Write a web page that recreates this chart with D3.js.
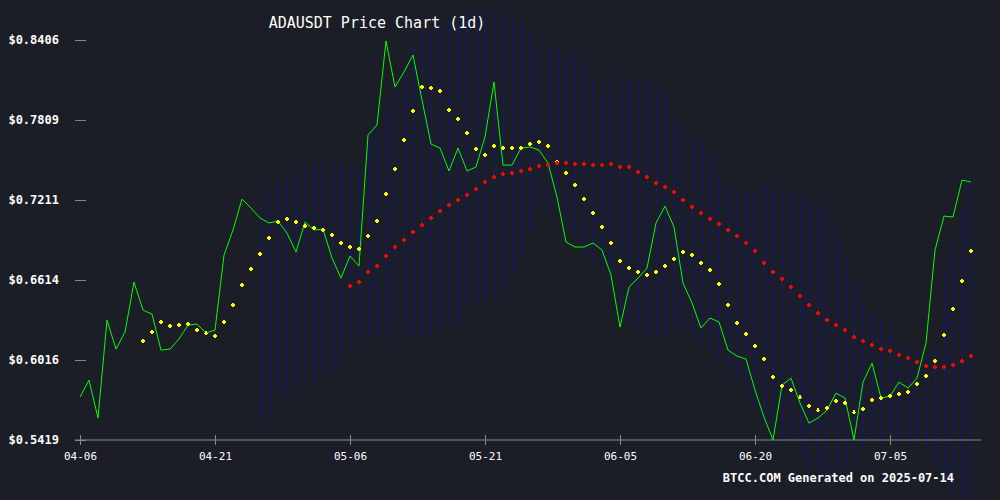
<!DOCTYPE html>
<html lang="en">
<head>
<meta charset="UTF-8">
<title>ADAUSDT Price Chart</title>
<script src="https://cdn.jsdelivr.net/npm/d3@7"></script>
<style>
  body { margin: 0; background: #1b1d27; }
  text { font-family: "DejaVu Sans Mono", monospace; }
</style>
</head>
<body>
<script>
    // daily closes from 04-06 to 07-14
    var startDate = "2025-04-06";
    var closes = [0.5739,0.5866,0.5583,0.6315,0.6098,0.6225,0.6598,0.6389,0.6359,0.6090,
        0.6098,0.6173,0.6277,0.6285,0.6217,0.6240,0.6800,0.6987,0.7218,0.7151,
        0.7077,0.7039,0.7054,0.6964,0.6823,0.7047,0.6987,0.6994,0.6778,0.6628,
        0.6793,0.6718,0.7697,0.7771,0.8399,0.8055,0.8167,0.8294,0.7958,0.7629,
        0.7599,0.7428,0.7599,0.7428,0.7458,0.7682,0.8092,0.7472,0.7472,0.7599,
        0.7607,0.7584,0.7487,0.7233,0.6897,0.6860,0.6860,0.6890,0.6837,0.6651,
        0.6262,0.6561,0.6628,0.6703,0.7039,0.7166,0.7009,0.6591,0.6442,0.6255,
        0.6330,0.6300,0.6090,0.6046,0.6023,0.5792,0.5590,0.5419,0.5829,0.5881,
        0.5695,0.5545,0.5583,0.5642,0.5769,0.5732,0.5419,0.5851,0.5993,0.5732,
        0.5747,0.5851,0.5807,0.5881,0.6143,0.6837,0.7091,0.7084,0.7360,0.7345];

    // short moving average, starts at day 7
    var maShortStart = 7;
    var maShort = [0.6158,0.6225,0.6300,0.6270,0.6277,0.6285,0.6240,0.6217,0.6195,0.6300,
        0.6427,0.6576,0.6696,0.6808,0.6927,0.7047,0.7069,0.7047,0.7017,0.7002,
        0.6987,0.6950,0.6890,0.6860,0.6845,0.6942,0.7054,0.7256,0.7443,0.7659,
        0.7876,0.8055,0.8048,0.8025,0.7883,0.7816,0.7711,0.7592,0.7547,0.7614,
        0.7599,0.7599,0.7599,0.7629,0.7644,0.7614,0.7495,0.7413,0.7323,0.7218,
        0.7114,0.7009,0.6890,0.6755,0.6703,0.6673,0.6651,0.6673,0.6718,0.6770,
        0.6823,0.6800,0.6740,0.6688,0.6583,0.6427,0.6292,0.6210,0.6120,0.6023,
        0.5889,0.5822,0.5792,0.5739,0.5672,0.5642,0.5657,0.5710,0.5695,0.5627,
        0.5650,0.5717,0.5732,0.5747,0.5762,0.5777,0.5837,0.5896,0.6008,0.6203,
        0.6397,0.6606,0.6830];

    // long moving average, starts at day 30
    var maLongStart = 30;
    var maLong = [0.6569,0.6598,0.6673,0.6718,0.6793,0.6860,0.6912,0.6972,0.7024,0.7077,
        0.7129,0.7174,0.7211,0.7248,0.7293,0.7345,0.7383,0.7405,0.7413,0.7428,
        0.7443,0.7465,0.7472,0.7487,0.7487,0.7480,0.7480,0.7472,0.7472,0.7480,
        0.7458,0.7458,0.7420,0.7383,0.7338,0.7308,0.7271,0.7211,0.7159,0.7114,
        0.7069,0.7032,0.6987,0.6942,0.6890,0.6830,0.6740,0.6673,0.6621,0.6561,
        0.6494,0.6427,0.6367,0.6315,0.6277,0.6240,0.6188,0.6158,0.6128,0.6098,
        0.6083,0.6053,0.6031,0.6001,0.5971,0.5964,0.5964,0.5979,0.6008,0.6046];

    // band (upper / lower), starts at day 20
    var bandStart = 20;
    var bandUpper = [0.7248,0.7308,0.7331,0.7375,0.7413,0.7450,0.7487,0.7487,0.7502,0.7487,
        0.7458,0.7435,0.7682,0.7883,0.7958,0.8070,0.8160,0.8384,0.8466,0.8496,
        0.8503,0.8556,0.8578,0.8608,0.8608,0.8615,0.8630,0.8615,0.8593,0.8518,
        0.8466,0.8354,0.8354,0.8354,0.8309,0.8294,0.8242,0.8122,0.8070,0.8070,
        0.8130,0.8122,0.8107,0.8085,0.8055,0.7995,0.7809,0.7756,0.7719,0.7644,
        0.7547,0.7420,0.7323,0.7263,0.7263,0.7271,0.7308,0.7316,0.7271,0.7248,
        0.7248,0.7233,0.7196,0.7136,0.6987,0.6778,0.6591,0.6449,0.6374,0.6315,
        0.6225,0.6113,0.6090,0.6076,0.6038,0.6113,0.6673,0.6890,0.7151,0.7345];
    var bandLower = [0.5553,0.5605,0.5739,0.5762,0.5814,0.5851,0.5851,0.5889,0.5919,0.6001,
        0.6098,0.6173,0.6188,0.6173,0.6158,0.6225,0.6210,0.6173,0.6173,0.6195,
        0.6225,0.6255,0.6292,0.6404,0.6449,0.6449,0.6501,0.6539,0.6651,0.6815,
        0.6964,0.7159,0.7136,0.7136,0.7009,0.6935,0.6785,0.6778,0.6711,0.6613,
        0.6262,0.6300,0.6255,0.6203,0.6188,0.6218,0.6262,0.6225,0.6165,0.6105,
        0.6090,0.6016,0.5941,0.5866,0.5754,0.5642,0.5530,0.5381,0.5403,0.5419,
        0.5284,0.5194,0.5119,0.5134,0.5142,0.5217,0.5209,0.5359,0.5419,0.5396,
        0.5419,0.5396,0.5396,0.5419,0.5366,0.5217,0.5098,0.5023,0.4934,0.4896];

    var yTicks = [0.5419, 0.6016, 0.6614, 0.7211, 0.7809, 0.8406];
    var xTickDates = ["2025-04-06","2025-04-21","2025-05-06","2025-05-21","2025-06-05","2025-06-20","2025-07-05"];

    var width = 1000, height = 500;
    var parse = d3.utcParse("%Y-%m-%d");
    var day0 = parse(startDate);
    function dayOf(i) { return d3.utcDay.offset(day0, i); }

    var svg = d3.select("body").append("svg")
        .attr("width", width).attr("height", height)
        .style("display", "block");
    svg.append("rect").attr("width", width).attr("height", height).attr("fill", "#1b1d27");

    var x = d3.scaleUtc().domain([day0, dayOf(closes.length - 1)]).range([80, 971]);
    var y = d3.scaleLinear().domain([0.5419, 0.8406]).range([440, 40]);

    // bands
    svg.append("g").selectAll("line")
        .data(bandUpper)
        .enter().append("line")
        .attr("x1", function (d, i) { return Math.round(x(dayOf(bandStart + i))) + 0.5; })
        .attr("x2", function (d, i) { return Math.round(x(dayOf(bandStart + i))) + 0.5; })
        .attr("y1", function (d) { return y(d); })
        .attr("y2", function (d, i) { return y(bandLower[i]); })
        .attr("stroke", "#15157a").attr("stroke-width", 1)
        .attr("shape-rendering", "crispEdges");

    // x axis
    var xAxis = d3.axisBottom(x)
        .tickValues(xTickDates.map(parse))
        .tickFormat(d3.utcFormat("%m-%d"))
        .tickSize(5).tickSizeOuter(0);
    var gx = svg.append("g").attr("transform", "translate(0,440)").call(xAxis);
    gx.select(".domain").attr("d", "M75,0H981").attr("stroke", "#888");
    gx.selectAll(".tick line").attr("y1", -5).attr("y2", 5).attr("stroke", "#888");
    gx.selectAll(".tick text").attr("y", 12).attr("fill", "#fff").attr("font-size", 11)
        .style("font-family", "DejaVu Sans Mono, monospace");

    // y axis
    var yAxis = d3.axisLeft(y).tickValues(yTicks)
        .tickFormat(function (d) { return "$" + d.toFixed(4); })
        .tickSize(11).tickPadding(16);
    var gy = svg.append("g").attr("transform", "translate(86,0)").call(yAxis);
    gy.select(".domain").remove();
    gy.selectAll(".tick line").attr("stroke", "#888");
    gy.selectAll(".tick text").attr("fill", "#fff").attr("font-size", 12).attr("font-weight", "bold")
        .style("font-family", "DejaVu Sans Mono, monospace");

    // close line
    var line = d3.line()
        .x(function (d, i) { return x(dayOf(i)); })
        .y(function (d) { return y(d); });
    svg.append("path").datum(closes)
        .attr("d", line).attr("fill", "none")
        .attr("stroke", "#00ff00").attr("stroke-width", 1);

    var cross = d3.symbol().type(d3.symbolCross).size(8);
    function dots(data, start, color) {
        svg.append("g").selectAll("path")
            .data(data).enter().append("path")
            .attr("d", cross)
            .attr("transform", function (d, i) {
                return "translate(" + x(dayOf(start + i)) + "," + y(d) + ")";
            })
            .attr("fill", color)
            .attr("shape-rendering", "crispEdges");
    }
    dots(maShort, maShortStart, "#ffff00");
    dots(maLong, maLongStart, "#ff0000");

    svg.append("text").attr("x", 377).attr("y", 28).attr("text-anchor", "middle")
        .attr("fill", "#fff").attr("font-size", 15).text("ADAUSDT Price Chart (1d)");
    svg.append("text").attr("x", 954).attr("y", 482).attr("text-anchor", "end")
        .attr("fill", "#fff").attr("font-size", 12).attr("font-weight", "bold")
        .text("BTCC.COM Generated on 2025-07-14");
</script>
</body>
</html>
